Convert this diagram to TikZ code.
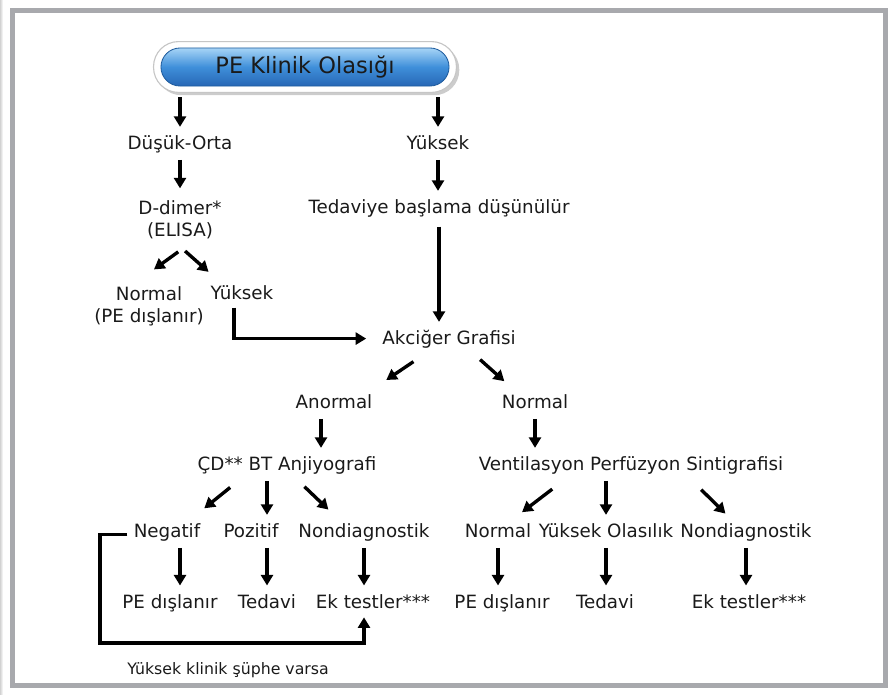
\documentclass[tikz,border=0pt]{standalone}
\usepackage{fontspec}
\setmainfont{DejaVu Sans}
\usetikzlibrary{arrows.meta,calc,backgrounds,shadows}
\definecolor{frameGray}{HTML}{A8A9AD}
\definecolor{capTop}{HTML}{A6D4F6}
\definecolor{capMid}{HTML}{3F8FDA}
\definecolor{capBot}{HTML}{2767B5}
\definecolor{capEdge}{HTML}{1F5C9E}
\definecolor{txt}{HTML}{1A1A1A}

\tikzset{
  lbl/.style={font=\fontsize{13}{15.6}\selectfont, text=txt, inner sep=3pt,
    text height=0.75em, text depth=0.25em},
  twoline/.style={lbl, align=center, text height={}, text depth={}},
  note/.style={lbl, font=\fontsize{11.2}{13.4}\selectfont},
  arr/.style={line width=2.4pt, -{Triangle[length=7.5pt,width=8.5pt]},
    shorten <=0.05cm, shorten >=0.2cm},
  pill/.style={font=\fontsize{16}{19}\selectfont, text=txt, inner sep=0pt,
    minimum width=7.2cm, minimum height=0.95cm, rounded corners=0.475cm,
    draw=capEdge, line width=0.6pt,
    top color=capTop, bottom color=capBot, middle color=capMid},
  pillframe/.style={fill=white, draw=gray!45, line width=0.8pt, rounded corners=0.625cm,
    drop shadow={shadow xshift=2pt, shadow yshift=-2pt, opacity=0.4}}
}

\begin{document}
\begin{tikzpicture}[x=0.025cm, y=-0.025cm]
  \useasboundingbox (0,0) rectangle (892,695);
  % frame
  \fill[left color=gray!35, right color=white] (0,0) rectangle (3,695);
  \draw[frameGray, line width=3.56pt] (12.5,10.5) rectangle (885.5,685);

  % title
  \node[pill] (title) at (305,67) {PE Klinik Olasığı};
  \begin{scope}[on background layer]
    \draw[pillframe] ($(title.south west)+(-7,6)$) rectangle ($(title.north east)+(7,-6)$);
  \end{scope}

  % left branch
  \node[lbl] (dusuk) at (180,146.4) {Düşük-Orta};
  \node[twoline] (ddimer) at (180,220) {D-dimer*\\(ELISA)};
  \node[twoline] (normalA) at (149,306.5) {Normal\\(PE dışlanır)};
  \node[lbl] (yuksekB) at (242,296) {Yüksek};

  % right branch
  \node[lbl] (yuksekA) at (438,146.4) {Yüksek};
  \node[lbl] (tedaviye) at (439,210.4) {Tedaviye başlama düşünülür};
  \node[lbl] (akciger) at (449,341.4) {Akciğer Grafisi};

  \node[lbl] (anormal) at (334,405.4) {Anormal};
  \node[lbl] (normalB) at (535,405.4) {Normal};
  \node[lbl] (bt) at (287,467.4) {ÇD** BT Anjiyografi};
  \node[lbl] (vps) at (631,467.4) {Ventilasyon Perfüzyon Sintigrafisi};

  \node[lbl] (negatif) at (167,534.4) {Negatif};
  \node[lbl] (pozitif) at (251,534.4) {Pozitif};
  \node[lbl] (nondiagA) at (364,534.4) {Nondiagnostik};
  \node[lbl] (normalC) at (498,534.4) {Normal};
  \node[lbl] (yuksekol) at (606,534.4) {Yüksek Olasılık};
  \node[lbl] (nondiagB) at (746,534.4) {Nondiagnostik};

  \node[lbl] (peA) at (170,605) {PE dışlanır};
  \node[lbl] (tedaviA) at (267,605) {Tedavi};
  \node[lbl] (ekA) at (373,605) {Ek testler***};
  \node[lbl] (peB) at (502,605) {PE dışlanır};
  \node[lbl] (tedaviB) at (605,605) {Tedavi};
  \node[lbl] (ekB) at (749,605) {Ek testler***};

  \node[note] (note) at (228,671) {Yüksek klinik şüphe varsa};

  % arrows: top part
  \draw[arr, shorten <=0.27cm] (title.south -| dusuk.north) -- (dusuk.north);
  \draw[arr, shorten <=0.27cm] (title.south -| yuksekA.north) -- (yuksekA.north);
  \draw[arr] (dusuk.south) -- (ddimer.north);
  \draw[arr] (yuksekA.south) -- (yuksekA.south |- tedaviye.north);
  \draw[arr, shorten <=0.12cm] (tedaviye.south) -- (tedaviye.south |- akciger.north);
  \draw[arr, shorten <=0.35cm, shorten >=0.55cm] (ddimer.292) -- (normalA.118);
  \draw[arr, shorten <=0.28cm, shorten >=0.475cm] (ddimer.262) -- (yuksekB.149);
  \draw[arr, shorten <=0pt, shorten >=0.29cm] ($(yuksekB.south)+(-8,0)$) |- ([yshift=2pt]akciger.west);

  % arrows: chest x-ray
  \draw[arr, shorten <=0.39cm, shorten >=0.62cm] (akciger.207) -- (anormal.20);
  \draw[arr, shorten <=0.25cm, shorten >=0.475cm] (akciger.334) -- (normalB.145);
  \draw[arr] ($(anormal.south)+(-13,0)$) -- ($(anormal.south |- bt.north)+(-13,0)$);
  \draw[arr] (normalB.south) -- (normalB.south |- vps.north);

  % arrows: CT angiography
  \draw[arr, shorten <=0.34cm, shorten >=0.58cm] (bt.194) -- (negatif.31);
  \draw[arr] (bt.south -| tedaviA.north) -- (pozitif.north -| tedaviA.north);
  \draw[arr, shorten <=0.28cm, shorten >=0.48cm] (bt.309) -- (nondiagA.152);

  % arrows: V/Q scan
  \draw[arr, shorten <=0.42cm, shorten >=0.44cm] (vps.190) -- (normalC.49);
  \draw[arr] (vps.south -| yuksekol.north) -- (yuksekol.north);
  \draw[arr, shorten <=0.38cm, shorten >=0.33cm] (vps.349) -- (nondiagB.134);

  % arrows: results
  \draw[arr] (negatif.south -| dusuk.south) -- (peA.north -| dusuk.south);
  \draw[arr] (pozitif.south -| tedaviA.north) -- (tedaviA.north);
  \draw[arr] (nondiagA.south) -- (nondiagA.south |- ekA.north);
  \draw[arr] (normalC.south) -- (normalC.south |- peB.north);
  \draw[arr] (yuksekol.south) -- (yuksekol.south |- tedaviB.north);
  \draw[arr] (nondiagB.south) -- (nondiagB.south |- ekB.north);

  % high suspicion loop
  \coordinate (loopBL) at (100,643);
  \draw[arr, shorten >=0.02cm] (negatif.west) -| (loopBL) -| (nondiagA.south |- ekA.south);
\end{tikzpicture}
\end{document}
